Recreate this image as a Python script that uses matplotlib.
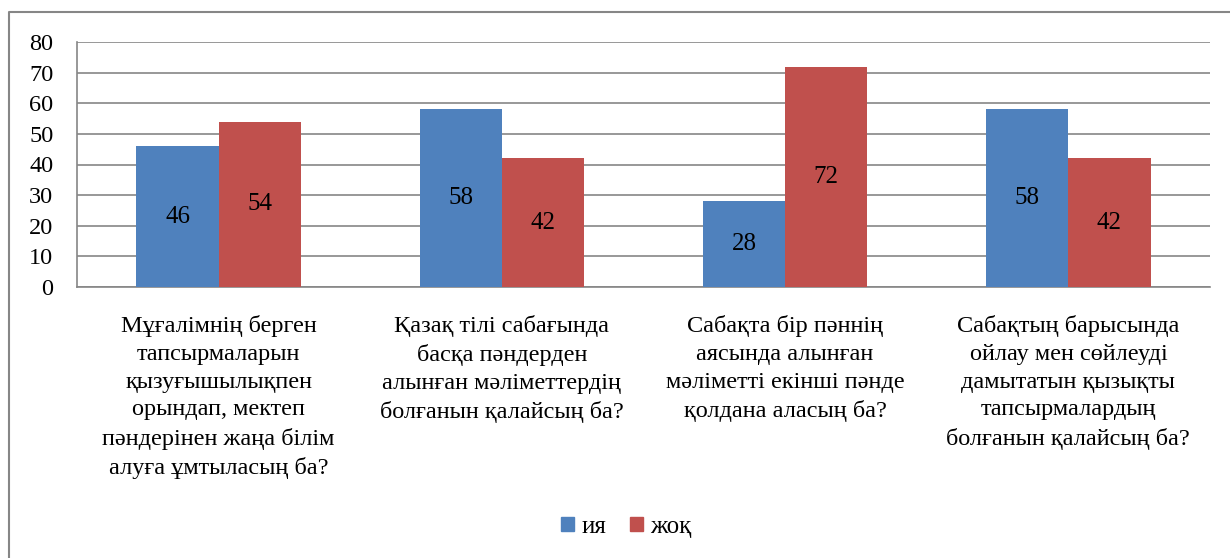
import matplotlib.pyplot as plt
import numpy as np
from matplotlib.patches import Rectangle
from matplotlib.lines import Line2D

plt.rcParams['font.family'] = ['Liberation Serif', 'DejaVu Serif']

categories = [
    'Мұғалімнің берген\nтапсырмаларын\nқызуғышылықпен\nорындап, мектеп\nпәндерінен жаңа білім\nалуға ұмтыласың ба?',
    'Қазақ тілі сабағында\nбасқа пәндерден\nалынған мәліметтердің\nболғанын қалайсың ба?',
    'Сабақта бір пәннің\nаясында алынған\nмәліметті екінші пәнде\nқолдана аласың ба?',
    'Сабақтың барысында\nойлау мен сөйлеуді\nдамытатын қызықты\nтапсырмалардың\nболғанын қалайсың ба?',
]
yes_vals = [46, 58, 28, 58]
no_vals = [54, 42, 72, 42]
series_names = ['ия', 'жоқ']
colors = ['#4F81BD', '#C0504D']

W, H = 1230, 558
fig = plt.figure(figsize=(W / 100, H / 100), dpi=100)
ax = fig.add_axes([77 / W, 1 - 287 / H, (1210 - 77) / W, (287 - 42) / H])

# chart frame: only top and left edges are visible in the crop
fig.lines.append(Line2D([9 / W, 9 / W, 1], [0, 1 - 12 / H, 1 - 12 / H], transform=fig.transFigure,
                        color='#868686', linewidth=1.5))

x = np.arange(len(categories))
w = 0.29
b1 = ax.bar(x - w / 2, yes_vals, w, color=colors[0], label=series_names[0], zorder=3)
b2 = ax.bar(x + w / 2, no_vals, w, color=colors[1], label=series_names[1], zorder=3)

for bars in (b1, b2):
    for r in bars:
        h = r.get_height()
        ax.text(r.get_x() + r.get_width() / 2, h / 2, str(h), ha='center', va='center',
                fontsize=18, color='black', zorder=4)

ax.set_xlim(-0.5, len(categories) - 0.5)
ax.set_ylim(0, 80)
ax.set_yticks(range(0, 81, 10))
ax.yaxis.grid(True, color='#868686', linewidth=1.2, zorder=0)
ax.set_xticks(x)
ax.set_xticklabels(categories, fontsize=17.5, linespacing=1.43)
ax.tick_params(axis='x', length=0, pad=20)
ax.tick_params(axis='y', length=0, labelsize=17.5, pad=17)
for s in ['top', 'right']:
    ax.spines[s].set_visible(False)
ax.spines['left'].set_color('#868686')
ax.spines['bottom'].set_color('#868686')
ax.spines['left'].set_linewidth(1.2)
ax.spines['bottom'].set_linewidth(1.2)

handles = [Rectangle((0, 0), 1, 1, color=c) for c in colors]
fig.legend(handles, series_names, loc='center', bbox_to_anchor=(626 / W, 1 - 527 / H),
           ncol=2, frameon=False, fontsize=18, handlelength=0.52, handleheight=0.52,
           handletextpad=0.3, columnspacing=0.95)

plt.savefig('out.png', dpi=100)
